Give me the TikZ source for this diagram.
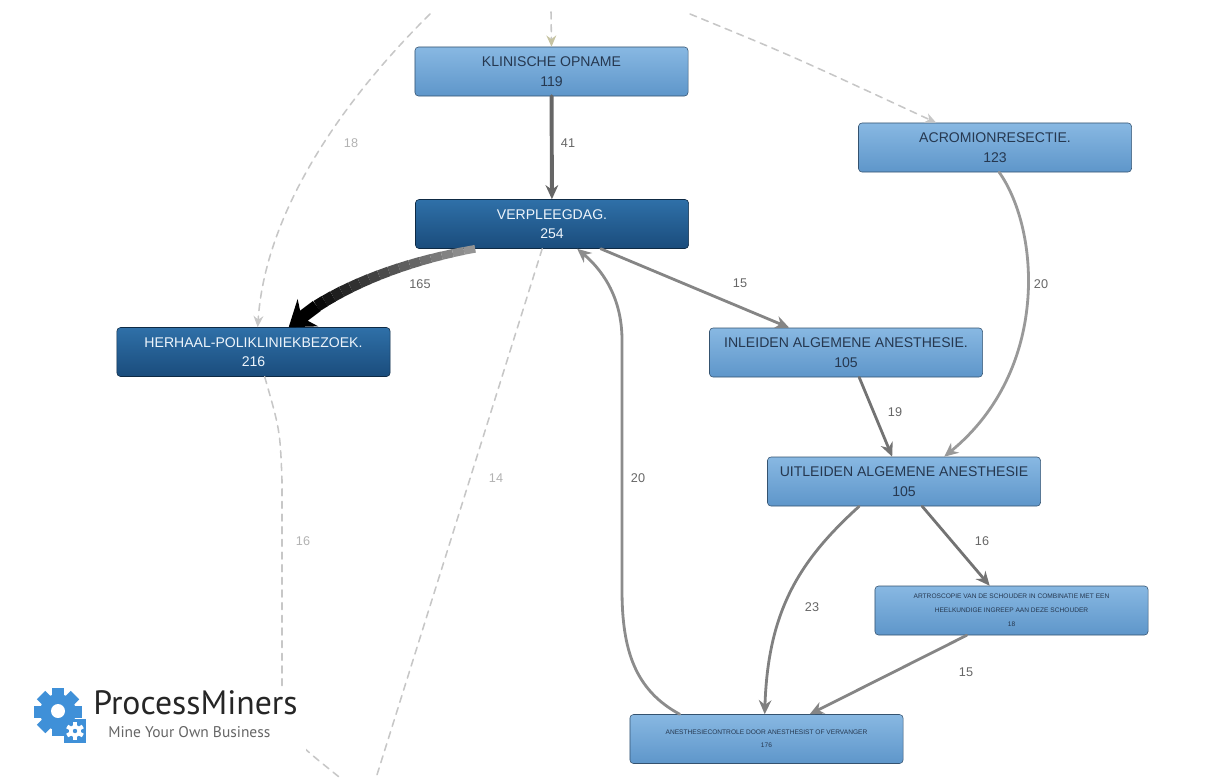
\documentclass[tikz,border=0pt]{standalone}
\usepackage{fontspec}
\setmainfont{Liberation Sans}
\newfontfamily\logofont{PT Sans}
\usetikzlibrary{calc,arrows.meta}

\begin{document}
\begin{tikzpicture}[x=0.025cm,y=-0.025cm,line cap=round]
  % Colors
  \definecolor{lighttop}{HTML}{88B8E2}
  \definecolor{lightbot}{HTML}{5E96CA}
  \definecolor{darktop}{HTML}{2F70A8}
  \definecolor{darkbot}{HTML}{1A4C7C}
  \definecolor{boxtext}{HTML}{263850}
  \definecolor{gearblue}{HTML}{3F90D8}
  \definecolor{tipolive}{HTML}{C6C3A2}
  \colorlet{flowgray}{black!55}
  \colorlet{dashgray}{black!22}
  \colorlet{labelgray}{black!60}
  \colorlet{faintlabel}{black!30}

  % Styles
  \tikzstyle{activity}=[rectangle,rounded corners=2.5pt,minimum width=6.825cm,minimum height=1.225cm,align=center,font=\fontsize{10}{14}\selectfont]
  \tikzstyle{light box}=[activity,draw=black!45!lightbot,top color=lighttop,bottom color=lightbot,text=boxtext]
  \tikzstyle{dark box}=[activity,draw=black!45!darkbot,top color=darktop,bottom color=darkbot,text=white!85!lighttop]
  \tikzstyle{flow}=[draw=flowgray,line width=2pt,-{Stealth[length=10pt,width=9pt]}]
  \tikzstyle{rare flow}=[draw=dashgray,line width=1.1pt,dash pattern=on 5pt off 4pt]
  \tikzstyle{rare tip}=[-{Stealth[length=8pt,width=7pt,color=dashgray]}]
  \tikzstyle{count}=[text=labelgray,font=\fontsize{9}{10}\selectfont]
  \tikzstyle{faint count}=[text=faintlabel,font=\fontsize{9}{10}\selectfont]

  \useasboundingbox (0,0) rectangle (1209,778);

  % Activities
  \node[light box] (opname) at (551.5,71.5) {KLINISCHE OPNAME\\119};
  \node[light box] (acromion) at (995,147.5) {ACROMIONRESECTIE.\\123};
  \node[dark box] (verpleeg) at (552,224) {VERPLEEGDAG.\\254};
  \node[dark box] (herhaal) at (253.5,352) {HERHAAL-POLIKLINIEKBEZOEK.\\216};
  \node[light box] (inleiden) at (846,352.5) {INLEIDEN ALGEMENE ANESTHESIE.\\105};
  \node[light box] (uitleiden) at (904,481.5) {UITLEIDEN ALGEMENE ANESTHESIE\\105};
  \node[light box,font=\fontsize{4.7}{10}\selectfont] (artroscopie) at (1011.5,610.5)
    {ARTROSCOPIE VAN DE SCHOUDER IN COMBINATIE MET EEN\\HEELKUNDIGE INGREEP AAN DEZE SCHOUDER\\18};
  \node[light box,font=\fontsize{4.7}{9.5}\selectfont] (controle) at (766.5,739)
    {ANESTHESIECONTROLE DOOR ANESTHESIST OF VERVANGER\\176};

  % Loose ends of the rare paths
  \coordinate (offtopa) at (430,14);
  \coordinate (offtopb) at (551,12);
  \coordinate (offtopc) at (690,14);
  \coordinate (offbottoma) at (376,778);
  \coordinate (offbottomb) at (344,781);

  % Rare paths
  \draw[rare flow,-{Stealth[length=8pt,width=7pt,color=tipolive]}] (offtopb) -- (opname.north);
  \draw[rare flow,rare tip] (offtopa) .. controls (338,105) and (265,215) .. ($(herhaal.north west)+(141,0)$);
  \draw[rare flow,rare tip] (offtopc) .. controls (790,55) .. ($(acromion.north west)+(78,0)$);
  \draw[rare flow] ($(verpleeg.south west)+(127,0)$) -- (offbottoma);
  \draw[rare flow] ($(herhaal.south west)+(148,0)$) .. controls (280,430) .. (282,480)
    -- (282,700) .. controls (282,735) and (300,745) .. (offbottomb);

  % Frequent paths
  \draw[flow,draw=black!60,line width=2.8pt] (opname) -- (verpleeg);
  \path ($(verpleeg.south west)+(60,0)$) .. controls (400,262) and (330,290) .. ($(herhaal.north west)+(172,0)$)
    foreach \i in {0,...,20} {coordinate[pos=\i/20] (bend\i)};
  \foreach \i [evaluate=\i as \j using int(\i+1), evaluate=\i as \tone using int(42+3.6*\i),
               evaluate=\i as \lw using 5.5+0.2*\i] in {0,...,15}
    \draw[draw=black!\tone,line width=\lw pt,line cap=butt] (bend\i) -- (bend\j);
  \draw[draw=black,line width=9pt,line cap=butt,-{Stealth[length=17pt,width=24pt]}] (bend16) -- (bend20);
  \draw[flow,draw=black!48] ($(verpleeg.south east)+(-88,0)$) -- ($(inleiden.north west)+(80,0)$);
  \draw[flow,draw=black!40] ($(acromion.south west)+(141,0)$) .. controls (1040,230) and (1050,370) .. ($(uitleiden.north west)+(177,0)$);
  \draw[flow,draw=black!55] ($(inleiden.south west)+(150,0)$) -- ($(uitleiden.north west)+(125,0)$);
  \draw[flow,draw=black!50] ($(uitleiden.south west)+(92,0)$) .. controls (800,560) and (768,610) .. ($(controle.north west)+(135,0)$);
  \draw[flow,draw=black!55] ($(uitleiden.south west)+(155,0)$) -- ($(artroscopie.north west)+(115,0)$);
  \draw[flow,draw=black!48] ($(artroscopie.south west)+(92,0)$) -- ($(controle.north west)+(180,0)$);
  \draw[flow,draw=black!45] ($(controle.north west)+(50,0)$) .. controls (635,690) and (622,650) .. (622,590)
    -- (622,340) .. controls (622,295) and (600,268) .. ($(verpleeg.south west)+(162,0)$);

  % Counts
  \node[faint count] (c18) at (351,143) {18};
  \node[count] (c41) at (568,143) {41};
  \node[count] (c165) at (420,284) {165};
  \node[count] (c15a) at (740,283) {15};
  \node[count] (c20a) at (1041,284) {20};
  \node[count] (c19) at (895,412) {19};
  \node[faint count] (c14) at (496,478) {14};
  \node[count] (c20b) at (638,478) {20};
  \node[faint count] (c16a) at (303,541) {16};
  \node[count] (c16b) at (982,541) {16};
  \node[count] (c23) at (812,607) {23};
  \node[count] (c15b) at (966,672) {15};

  % Logo
  \fill[white] (20,687) rectangle (306,756);
  \fill[gearblue] (58,712) circle (18);
  \foreach \a in {0,45,...,315}
    \fill[gearblue,rotate around={\a:(58,712)}] (52,688) rectangle (64,700);
  \fill[white] (58,711) circle (7);
  \fill[gearblue] (64,719) rectangle (86,743);
  \fill[white] (75,731) circle (6);
  \foreach \a in {0,60,...,300}
    \fill[white,rotate around={\a:(75,731)}] (73,722) rectangle (77,727);
  \fill[gearblue] (75,731) circle (2.2);
  \node[anchor=west,inner sep=0pt,text=black!85,font=\logofont\fontsize{24}{24}\selectfont] (brand) at (93,703) {ProcessMiners};
  \node[anchor=west,inner sep=0pt,text=black!60,font=\logofont\fontsize{11}{11}\selectfont] (motto) at (108,732) {Mine Your Own Business};
\end{tikzpicture}
\end{document}
